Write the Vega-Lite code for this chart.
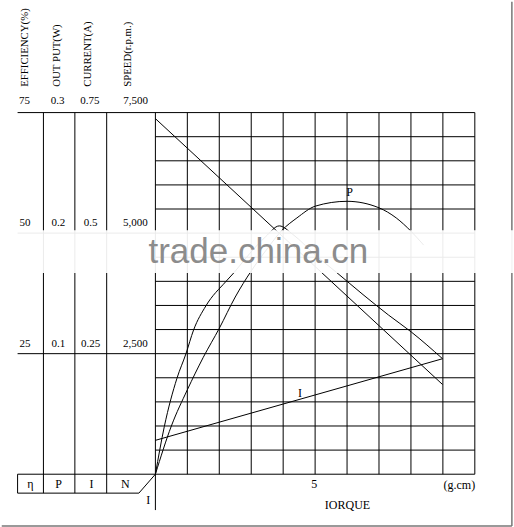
{
  "$schema": "https://vega.github.io/schema/vega-lite/v6.json",
  "width": 514,
  "height": 527,
  "autosize": {"type": "fit", "contains": "padding"},
  "padding": 0,
  "background": "white",
  "config": {"view": {"stroke": null}},
  "datasets": {
    "segs": [
      {"x": 0, "y": -1.488, "x2": 0, "y2": 15},
      {"x": 1, "y": 0, "x2": 1, "y2": 15},
      {"x": 2, "y": 0, "x2": 2, "y2": 15},
      {"x": 3, "y": 0, "x2": 3, "y2": 15},
      {"x": 4, "y": 0, "x2": 4, "y2": 15},
      {"x": 5, "y": 0, "x2": 5, "y2": 15},
      {"x": 6, "y": 0, "x2": 6, "y2": 15},
      {"x": 7, "y": 0, "x2": 7, "y2": 15},
      {"x": 8, "y": 0, "x2": 8, "y2": 15},
      {"x": 9, "y": 0, "x2": 9, "y2": 15},
      {"x": 10, "y": 0, "x2": 10, "y2": 15},
      {"x": -4.314, "y": 0, "x2": 10, "y2": 0},
      {"x": 0, "y": 1, "x2": 10, "y2": 1},
      {"x": 0, "y": 2, "x2": 10, "y2": 2},
      {"x": 0, "y": 3, "x2": 10, "y2": 3},
      {"x": 0, "y": 4, "x2": 10, "y2": 4},
      {"x": -4.314, "y": 5, "x2": 10, "y2": 5},
      {"x": 0, "y": 6, "x2": 10, "y2": 6},
      {"x": 0, "y": 7, "x2": 10, "y2": 7},
      {"x": 0, "y": 8, "x2": 10, "y2": 8},
      {"x": 0, "y": 9, "x2": 10, "y2": 9},
      {"x": -4.314, "y": 10, "x2": 10, "y2": 10},
      {"x": 0, "y": 11, "x2": 10, "y2": 11},
      {"x": 0, "y": 12, "x2": 10, "y2": 12},
      {"x": 0, "y": 13, "x2": 10, "y2": 13},
      {"x": 0, "y": 14, "x2": 10, "y2": 14},
      {"x": -4.314, "y": 15, "x2": 10, "y2": 15},
      {"x": -3.505, "y": -0.785, "x2": -3.505, "y2": 15},
      {"x": -2.521, "y": -0.785, "x2": -2.521, "y2": 15},
      {"x": -1.525, "y": -0.785, "x2": -1.525, "y2": 15},
      {"x": -4.314, "y": -0.785, "x2": -4.314, "y2": 0},
      {"x": -4.314, "y": -0.785, "x2": -0.517, "y2": -0.785},
      {"x": -0.517, "y": -0.785, "x2": 0, "y2": 0}
    ],
    "frame": [
      {"x": 11.16, "y": 19.6, "x2": 11.16, "y2": -2.149},
      {"x": -4.81, "y": -2.149, "x2": 11.16, "y2": -2.149}
    ],
    "curves": [
      {"s": "eta", "o": 0, "x": 0, "y": 0},
      {"s": "eta", "o": 1, "x": 0.28, "y": 1.98},
      {"s": "eta", "o": 2, "x": 0.675, "y": 3.98},
      {"s": "eta", "o": 3, "x": 0.955, "y": 4.99},
      {"s": "eta", "o": 4, "x": 1.195, "y": 5.98},
      {"s": "eta", "o": 5, "x": 1.58, "y": 6.98},
      {"s": "eta", "o": 6, "x": 2.205, "y": 7.99},
      {"s": "eta", "o": 7, "x": 2.46, "y": 8.36},
      {"s": "eta", "o": 8, "x": 2.95, "y": 9.15},
      {"s": "eta", "o": 9, "x": 3.45, "y": 9.85},
      {"s": "eta", "o": 10, "x": 3.88, "y": 10.3},
      {"s": "eta", "o": 11, "x": 4.3, "y": 9.95},
      {"s": "eta", "o": 12, "x": 5.0, "y": 9.1},
      {"s": "eta", "o": 13, "x": 5.68, "y": 8.36},
      {"s": "eta", "o": 14, "x": 6.5, "y": 7.45},
      {"s": "eta", "o": 15, "x": 7.3, "y": 6.6},
      {"s": "eta", "o": 16, "x": 8.01, "y": 5.9},
      {"s": "eta", "o": 17, "x": 8.99, "y": 4.79},
      {"s": "P", "o": 0, "x": 0, "y": 0},
      {"s": "P", "o": 1, "x": 0.5, "y": 2.0},
      {"s": "P", "o": 2, "x": 1.0, "y": 3.5},
      {"s": "P", "o": 3, "x": 1.5, "y": 4.85},
      {"s": "P", "o": 4, "x": 2.0, "y": 6.05},
      {"s": "P", "o": 5, "x": 2.5, "y": 7.35},
      {"s": "P", "o": 6, "x": 3.0, "y": 8.43},
      {"s": "P", "o": 7, "x": 3.5, "y": 9.35},
      {"s": "P", "o": 8, "x": 3.95, "y": 10.1},
      {"s": "P", "o": 9, "x": 4.43, "y": 10.63},
      {"s": "P", "o": 10, "x": 5.01, "y": 11.12},
      {"s": "P", "o": 11, "x": 6.0, "y": 11.32},
      {"s": "P", "o": 12, "x": 7.0, "y": 11.05},
      {"s": "P", "o": 13, "x": 7.54, "y": 10.63},
      {"s": "P", "o": 14, "x": 8.0, "y": 10.08},
      {"s": "P", "o": 15, "x": 8.4, "y": 9.5},
      {"s": "N", "o": 0, "x": 0, "y": 14.75},
      {"s": "N", "o": 1, "x": 8.99, "y": 3.72},
      {"s": "I", "o": 0, "x": 0, "y": 1.405},
      {"s": "I", "o": 1, "x": 8.99, "y": 4.79}
    ],
    "band": [
      {"x": -4.81, "x2": 11.2, "y": 8.35, "y2": 10.12}
    ],
    "mark": [
      {"x": -0.218, "y": 8.77, "text": "trade.china.cn"}
    ],
    "heads": [
      {"x": -4.087, "y": 16.07, "text": "EFFICIENCY(%)"},
      {"x": -3.075, "y": 16.07, "text": "OUT PUT(W)"},
      {"x": -2.095, "y": 16.07, "text": "CURRENT(A)"},
      {"x": -0.85, "y": 16.07, "text": "SPEED(r.p.m.)"}
    ],
    "vals": [
      {"x": -4.1, "y": 15.5, "text": "75"},
      {"x": -3.06, "y": 15.5, "text": "0.3"},
      {"x": -2.05, "y": 15.5, "text": "0.75"},
      {"x": -0.616, "y": 15.5, "text": "7,500"},
      {"x": -4.08, "y": 10.41, "text": "50"},
      {"x": -3.04, "y": 10.41, "text": "0.2"},
      {"x": -2.03, "y": 10.41, "text": "0.5"},
      {"x": -0.63, "y": 10.41, "text": "5,000"},
      {"x": -4.08, "y": 5.41, "text": "25"},
      {"x": -3.04, "y": 5.41, "text": "0.1"},
      {"x": -2.03, "y": 5.41, "text": "0.25"},
      {"x": -0.63, "y": 5.41, "text": "2,500"}
    ],
    "labels": [
      {"x": -3.915, "y": -0.413, "text": "η"},
      {"x": -3.03, "y": -0.413, "text": "P"},
      {"x": -2.0, "y": -0.413, "text": "I"},
      {"x": -0.943, "y": -0.413, "text": "N"},
      {"x": -0.227, "y": -1.074, "text": "I"},
      {"x": 4.97, "y": -0.413, "text": "5"},
      {"x": 6.013, "y": -1.281, "text": "IORQUE"},
      {"x": 9.514, "y": -0.455, "text": "(g.cm)"},
      {"x": 6.08, "y": 11.69, "text": "P"},
      {"x": 4.525, "y": 3.368, "text": "I"}
    ]
  },
  "layer": [
    {
      "data": {"name": "segs"},
      "mark": {"type": "rule", "color": "black", "strokeWidth": 1},
      "encoding": {
        "x": {"field": "x", "type": "quantitative", "scale": {"domain": [-4.802, 11.195], "nice": false, "zero": false}, "axis": null},
        "y": {"field": "y", "type": "quantitative", "scale": {"domain": [-2.19, 19.587], "nice": false, "zero": false}, "axis": null},
        "x2": {"field": "x2"},
        "y2": {"field": "y2"}
      }
    },
    {
      "data": {"name": "frame"},
      "mark": {"type": "rule", "color": "#777777", "strokeWidth": 1.5},
      "encoding": {
        "x": {"field": "x", "type": "quantitative", "axis": null},
        "y": {"field": "y", "type": "quantitative", "axis": null},
        "x2": {"field": "x2"},
        "y2": {"field": "y2"}
      }
    },
    {
      "data": {"name": "curves"},
      "mark": {"type": "line", "color": "black", "strokeWidth": 1, "interpolate": "monotone"},
      "encoding": {
        "x": {"field": "x", "type": "quantitative", "axis": null},
        "y": {"field": "y", "type": "quantitative", "axis": null},
        "detail": {"field": "s", "type": "nominal"},
        "order": {"field": "o", "type": "quantitative"}
      }
    },
    {
      "data": {"name": "band"},
      "mark": {"type": "rect", "color": "white", "opacity": 0.92},
      "encoding": {
        "x": {"field": "x", "type": "quantitative", "axis": null},
        "y": {"field": "y", "type": "quantitative", "axis": null},
        "x2": {"field": "x2"},
        "y2": {"field": "y2"}
      }
    },
    {
      "data": {"name": "mark"},
      "mark": {"type": "text", "font": "Liberation Sans", "fontSize": 35, "color": "#8c8c8c", "align": "left", "baseline": "alphabetic"},
      "encoding": {
        "x": {"field": "x", "type": "quantitative", "axis": null},
        "y": {"field": "y", "type": "quantitative", "axis": null},
        "text": {"field": "text"}
      }
    },
    {
      "data": {"name": "heads"},
      "mark": {"type": "text", "font": "Liberation Serif", "fontSize": 10.8, "color": "black", "angle": 270, "align": "left", "baseline": "middle"},
      "encoding": {
        "x": {"field": "x", "type": "quantitative", "axis": null},
        "y": {"field": "y", "type": "quantitative", "axis": null},
        "text": {"field": "text"}
      }
    },
    {
      "data": {"name": "vals"},
      "mark": {"type": "text", "font": "Liberation Serif", "fontSize": 11, "color": "black", "align": "center", "baseline": "middle"},
      "encoding": {
        "x": {"field": "x", "type": "quantitative", "axis": null},
        "y": {"field": "y", "type": "quantitative", "axis": null},
        "text": {"field": "text"}
      }
    },
    {
      "data": {"name": "labels"},
      "mark": {"type": "text", "font": "Liberation Serif", "fontSize": 12, "color": "black", "align": "center", "baseline": "middle"},
      "encoding": {
        "x": {"field": "x", "type": "quantitative", "axis": null},
        "y": {"field": "y", "type": "quantitative", "axis": null},
        "text": {"field": "text"}
      }
    }
  ]
}
